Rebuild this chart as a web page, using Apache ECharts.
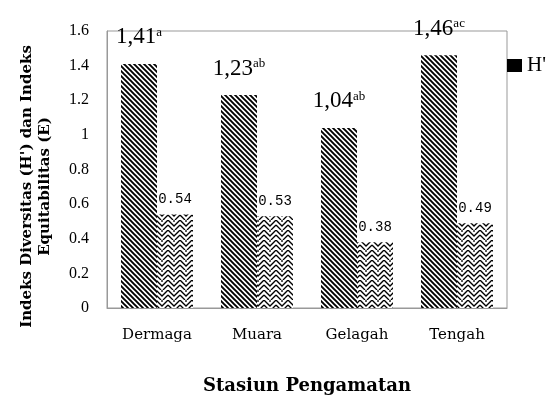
<!DOCTYPE html>
<html>
<head>
<meta charset="utf-8">
<script src="https://cdn.jsdelivr.net/npm/echarts@6/dist/echarts.min.js"></script>
<style>
  html, body { margin: 0; padding: 0; background: #fff; }
  #chart { width: 560px; height: 400px; }
</style>
</head>
<body>
<div id="chart"></div>
<script>
// values
const categories = ['Dermaga', 'Muara', 'Gelagah', 'Tengah'];
const hValues = [1.41, 1.23, 1.04, 1.46];
const eValues = [0.54, 0.53, 0.38, 0.49];
const hLabels = ['1,41', '1,23', '1,04', '1,46'];
const hSuper = ['a', 'ab', 'ab', 'ac'];
const eLabels = ['0.54', '0.53', '0.38', '0.49'];

const SERIF = 'Liberation Serif, DejaVu Serif, serif';
const WIDE_SERIF = 'DejaVu Serif, Liberation Serif, serif';

// black "\" stripes for H'
function stripePattern() {
  const c = document.createElement('canvas');
  c.width = 5; c.height = 5;
  const g = c.getContext('2d');
  g.fillStyle = '#fff';
  g.fillRect(0, 0, 5, 5);
  g.strokeStyle = '#000';
  g.lineWidth = 1.9;
  g.beginPath();
  for (let k = -5; k <= 5; k += 5) {
    g.moveTo(k - 1, -1);
    g.lineTo(k + 6, 6);
  }
  g.stroke();
  return c;
}

// zigzag / chevron pattern for E
function zigzagPattern() {
  const c = document.createElement('canvas');
  c.width = 12; c.height = 10;
  const g = c.getContext('2d');
  g.fillStyle = '#fff';
  g.fillRect(0, 0, 12, 10);
  g.strokeStyle = '#000';
  g.lineWidth = 1.3;
  g.beginPath();
  g.moveTo(0, 0); g.lineTo(6, 6); g.lineTo(12, 0);
  g.moveTo(0, 5); g.lineTo(5, 10);
  g.moveTo(12, 5); g.lineTo(7, 10);
  g.moveTo(6, -4); g.lineTo(6, 2);
  g.stroke();
  return c;
}

const chart = echarts.init(document.getElementById('chart'), null, { renderer: 'canvas' });

chart.setOption({
  backgroundColor: '#fff',
  animation: false,
  textStyle: { fontFamily: SERIF, color: '#000' },
  grid: { left: 107, right: 53, top: 31, bottom: 84, show: true, borderColor: '#999', borderWidth: 1 },
  legend: {
    data: [{ name: "H'", itemStyle: { color: '#000' } }],
    left: 507, top: 55, orient: 'vertical', padding: 0,
    icon: 'rect', itemWidth: 15, itemHeight: 13, itemGap: 6,
    textStyle: { fontFamily: SERIF, fontSize: 21, color: '#000' }
  },
  xAxis: {
    type: 'category',
    data: categories,
    axisLine: { lineStyle: { color: '#999' } },
    axisTick: { show: false },
    axisLabel: { margin: 20, fontFamily: WIDE_SERIF, fontSize: 15, color: '#000' },
    name: 'Stasiun Pengamatan',
    nameLocation: 'middle',
    nameGap: 69,
    nameTextStyle: { fontFamily: WIDE_SERIF, fontWeight: 'bold', fontSize: 18, color: '#000' }
  },
  yAxis: {
    type: 'value',
    min: 0, max: 1.6, interval: 0.2,
    axisLine: { show: true, lineStyle: { color: '#999' } },
    splitLine: { show: false },
    axisLabel: { margin: 18, fontSize: 16, color: '#000', formatter: v => String(+v.toFixed(1)) },
    name: "Indeks Diversitas (H') dan Indeks\nEquitabilitas (E)",
    nameLocation: 'middle',
    nameRotate: 90,
    nameGap: 53,
    nameTextStyle: { fontFamily: WIDE_SERIF, fontWeight: 'bold', fontSize: 15, lineHeight: 18, color: '#000', padding: [0, 34, 0, 0] }
  },
  series: [
    {
      name: "H'",
      type: 'bar',
      data: hValues,
      barGap: '0%',
      barCategoryGap: '28%',
      itemStyle: { color: { image: stripePattern(), repeat: 'repeat' } },
      label: {
        show: true, position: 'top', distance: 15,
        formatter: p => '{v|' + hLabels[p.dataIndex] + '}{s|' + hSuper[p.dataIndex] + '}',
        rich: {
          v: { fontFamily: SERIF, fontSize: 23, color: '#000' },
          s: { fontFamily: SERIF, fontSize: 13, color: '#000', padding: [0, 0, 10, 0] }
        }
      }
    },
    {
      name: 'E',
      type: 'bar',
      data: eValues,
      itemStyle: { color: { image: zigzagPattern(), repeat: 'repeat' } },
      label: {
        show: true, position: 'top', distance: 8,
        formatter: p => eLabels[p.dataIndex],
        fontFamily: 'Liberation Mono, monospace', fontSize: 14, color: '#000'
      }
    }
  ]
});
</script>
</body>
</html>
